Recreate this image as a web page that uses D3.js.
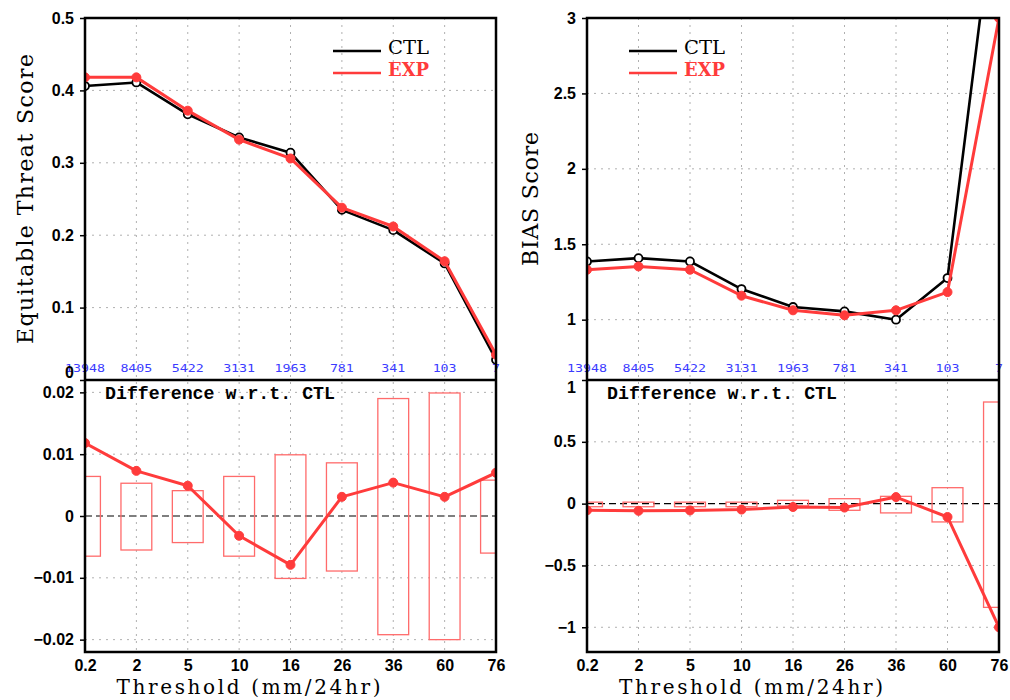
<!DOCTYPE html>
<html>
<head>
<meta charset="utf-8">
<script src="https://cdn.jsdelivr.net/npm/d3@7"></script>
<style>
  body { margin: 0; background: #fff; }
  .grid { stroke: #b0b0b0; stroke-width: 1; stroke-dasharray: 2,5; }
  .tick text { font-family: "Liberation Sans", sans-serif; font-weight: bold; font-size: 16px; }
</style>
</head>
<body>
<script>
//thresholds and sample counts
var thresholds = ["0.2", "2", "5", "10", "16", "26", "36", "60", "76"];
var counts = ["13948", "8405", "5422", "3131", "1963", "781", "341", "103", "7"];

//equitable threat score
var etsCtl = [0.406, 0.411, 0.367, 0.335, 0.314, 0.235, 0.207, 0.161, 0.028];
var etsExp = [0.418, 0.418, 0.372, 0.332, 0.306, 0.238, 0.212, 0.164, 0.035];
var etsDiff = [0.0118, 0.0073, 0.0049, -0.0032, -0.0079, 0.0031, 0.0054, 0.0031, 0.0070];
var etsSigHi = [0.0064, 0.0053, 0.0041, 0.0064, 0.0099, 0.0086, 0.0190, 0.0199, 0.0058];
var etsSigLo = [-0.0065, -0.0055, -0.0043, -0.0065, -0.0101, -0.0089, -0.0192, -0.0200, -0.0060];

//bias score
var biasCtl = [1.386, 1.408, 1.386, 1.203, 1.084, 1.055, 1.000, 1.276, 4.0];
var biasExp = [1.331, 1.353, 1.331, 1.159, 1.062, 1.029, 1.062, 1.183, 3.0];
var biasDiff = [-0.054, -0.058, -0.055, -0.048, -0.027, -0.032, 0.053, -0.108, -1.0];
var biasSigHi = [0.012, 0.012, 0.012, 0.012, 0.027, 0.040, 0.059, 0.129, 0.822];
var biasSigLo = [-0.025, -0.025, -0.025, -0.025, -0.019, -0.054, -0.075, -0.148, -0.839];

//tick values and labels
var etsTicks = [0, 0.1, 0.2, 0.3, 0.4, 0.5];
var etsTickLabels = ["0", "0.1", "0.2", "0.3", "0.4", "0.5"];
var etsDiffTicks = [-0.02, -0.01, 0, 0.01, 0.02];
var etsDiffTickLabels = ["\u22120.02", "\u22120.01", "0", "0.01", "0.02"];
var biasTicks = [1, 1.5, 2, 2.5, 3];
var biasTickLabels = ["1", "1.5", "2", "2.5", "3"];
var biasDiffTicks = [-1, -0.5, 0, 0.5, 1];
var biasDiffTickLabels = ["\u22121", "\u22120.5", "0", "0.5", "1"];

var red = "#ff3b3b";

window.onload = setChart();

function setChart(){

    var svg = d3.select("body")
        .append("svg")
        .attr("width", 1010)
        .attr("height", 700);

    drawColumn(svg, {
        id: "ets", left: 85, right: 496,
        top: 18, mid: 380, bottom: 652,
        topDomain: [0, 0.5], botDomain: [-0.022, 0.022],
        ctl: etsCtl, exp: etsExp, diff: etsDiff, hi: etsSigHi, lo: etsSigLo,
        topTicks: etsTicks, topLabels: etsTickLabels,
        botTicks: etsDiffTicks, botLabels: etsDiffTickLabels,
        title: "Equitable Threat Score", titleX: 33, titleLen: 290,
        legendX: 333
    });

    drawColumn(svg, {
        id: "bias", left: 587, right: 999,
        top: 18, mid: 380, bottom: 652,
        topDomain: [0.6, 3], botDomain: [-1.2, 1],
        ctl: biasCtl, exp: biasExp, diff: biasDiff, hi: biasSigHi, lo: biasSigLo,
        topTicks: biasTicks, topLabels: biasTickLabels,
        botTicks: biasDiffTicks, botLabels: biasDiffTickLabels,
        title: "BIAS Score", titleX: 538, titleLen: 134,
        legendX: 629
    });
};

function drawColumn(svg, o){

    var x = d3.scalePoint()
        .domain(thresholds)
        .range([o.left, o.right]);

    var yTop = d3.scaleLinear().domain(o.topDomain).range([o.mid, o.top]);
    var yBot = d3.scaleLinear().domain(o.botDomain).range([o.bottom, o.mid]);

    var g = svg.append("g");

    //clip paths for each panel
    var defs = svg.append("defs");
    defs.append("clipPath").attr("id", o.id + "Top")
        .append("rect").attr("x", o.left).attr("y", o.top)
        .attr("width", o.right - o.left).attr("height", o.mid - o.top);
    defs.append("clipPath").attr("id", o.id + "Bot")
        .append("rect").attr("x", o.left).attr("y", o.mid)
        .attr("width", o.right - o.left).attr("height", o.bottom - o.mid);

    //vertical grid lines through both panels
    g.selectAll(".vgrid")
        .data(thresholds.slice(1, -1))
        .enter()
        .append("line")
        .attr("class", "grid")
        .attr("x1", function(d){ return x(d); })
        .attr("x2", function(d){ return x(d); })
        .attr("y1", o.top)
        .attr("y2", o.bottom);

    //horizontal grid lines
    g.selectAll(".hgridTop")
        .data(o.topTicks.filter(function(t){ return yTop(t) > o.top + 1 && yTop(t) < o.mid - 1; }))
        .enter()
        .append("line")
        .attr("class", "grid")
        .attr("x1", o.left).attr("x2", o.right)
        .attr("y1", function(d){ return yTop(d); })
        .attr("y2", function(d){ return yTop(d); });

    g.selectAll(".hgridBot")
        .data(o.botTicks.filter(function(t){ return t != 0 && yBot(t) > o.mid + 1 && yBot(t) < o.bottom - 1; }))
        .enter()
        .append("line")
        .attr("class", "grid")
        .attr("x1", o.left).attr("x2", o.right)
        .attr("y1", function(d){ return yBot(d); })
        .attr("y2", function(d){ return yBot(d); });

    //zero line in difference panel
    g.append("line")
        .attr("x1", o.left).attr("x2", o.right)
        .attr("y1", yBot(0)).attr("y2", yBot(0))
        .attr("stroke", "#000")
        .attr("stroke-width", 1.2)
        .attr("stroke-dasharray", "7,4");

    //significance boxes
    var bw = x.step() * 0.6;
    g.append("g")
        .attr("clip-path", "url(#" + o.id + "Bot)")
        .selectAll("rect")
        .data(thresholds)
        .enter()
        .append("rect")
        .attr("x", function(d){ return x(d) - bw / 2; })
        .attr("y", function(d, i){ return yBot(o.hi[i]); })
        .attr("width", bw)
        .attr("height", function(d, i){ return yBot(o.lo[i]) - yBot(o.hi[i]); })
        .attr("fill", "none")
        .attr("stroke", "#ff6b6b")
        .attr("stroke-width", 1.3);

    //score lines
    var topLayer = g.append("g").attr("clip-path", "url(#" + o.id + "Top)");

    function addSeries(layer, vals, y, color, width, filled){
        var line = d3.line()
            .x(function(d, i){ return x(thresholds[i]); })
            .y(function(d){ return y(d); });
        layer.append("path")
            .datum(vals)
            .attr("d", line)
            .attr("fill", "none")
            .attr("stroke", color)
            .attr("stroke-width", width)
            .attr("stroke-linejoin", "round");
        layer.selectAll(".pt" + color.replace("#", ""))
            .data(vals)
            .enter()
            .append("circle")
            .attr("cx", function(d, i){ return x(thresholds[i]); })
            .attr("cy", function(d){ return y(d); })
            .attr("r", filled ? 4.5 : 4)
            .attr("fill", filled ? color : "#fff")
            .attr("stroke", color)
            .attr("stroke-width", filled ? 1 : 1.8);
    }

    addSeries(topLayer, o.ctl, yTop, "#000", 2.6, false);
    addSeries(topLayer, o.exp, yTop, red, 3, true);

    var botLayer = g.append("g").attr("clip-path", "url(#" + o.id + "Bot)");
    addSeries(botLayer, o.diff, yBot, red, 3, true);

    //sample counts
    g.selectAll(".count")
        .data(counts)
        .enter()
        .append("text")
        .attr("x", function(d, i){ return x(thresholds[i]); })
        .attr("y", o.mid - 8)
        .attr("text-anchor", "middle")
        .attr("textLength", function(d){ return d.length * 8; })
        .attr("lengthAdjust", "spacingAndGlyphs")
        .attr("fill", "#3b3bff")
        .style("font-family", "DejaVu Sans Mono, monospace")
        .style("font-size", "11px")
        .text(function(d){ return d; });

    //y axes
    var axTop = g.append("g")
        .attr("class", "axis")
        .attr("transform", "translate(" + o.left + ",0)")
        .call(d3.axisLeft(yTop)
            .tickValues(o.topTicks)
            .tickSize(5)
            .tickPadding(6)
            .tickFormat(function(d, i){ return o.topLabels[i]; }));
    axTop.select(".domain").remove();
    axTop.selectAll(".tick").filter(function(d){ return yTop(d) > o.mid - 1; })
        .select("text").attr("dy", "-0.15em");

    var axBot = g.append("g")
        .attr("class", "axis")
        .attr("transform", "translate(" + o.left + ",0)")
        .call(d3.axisLeft(yBot)
            .tickValues(o.botTicks)
            .tickSize(5)
            .tickPadding(6)
            .tickFormat(function(d, i){ return o.botLabels[i]; }));
    axBot.select(".domain").remove();
    axBot.selectAll(".tick").filter(function(d){ return yBot(d) < o.mid + 1; })
        .select("text").attr("dy", "0.75em");
    axBot.selectAll(".tick line").attr("stroke-width", 1.5);
    axTop.selectAll(".tick line").attr("stroke-width", 1.5);

    //x axis labels
    var axX = g.append("g")
        .attr("class", "axis")
        .attr("transform", "translate(0," + o.bottom + ")")
        .call(d3.axisBottom(x).tickSize(0).tickPadding(8));
    axX.select(".domain").remove();

    //frames
    g.append("rect")
        .attr("x", o.left).attr("y", o.top)
        .attr("width", o.right - o.left).attr("height", o.bottom - o.top)
        .attr("fill", "none")
        .attr("stroke", "#000")
        .attr("stroke-width", 2.5);
    g.append("line")
        .attr("x1", o.left).attr("x2", o.right)
        .attr("y1", o.mid).attr("y2", o.mid)
        .attr("stroke", "#000")
        .attr("stroke-width", 2.5);

    //titles
    g.append("text")
        .attr("transform", "translate(" + o.titleX + "," + ((o.top + o.mid) / 2) + ") rotate(-90)")
        .attr("text-anchor", "middle")
        .attr("textLength", o.titleLen)
        .attr("lengthAdjust", "spacing")
        .style("font-family", "DejaVu Serif, serif")
        .style("font-size", "22px")
        .text(o.title);

    g.append("text")
        .attr("x", (o.left + o.right) / 2 - 42)
        .attr("y", 694)
        .attr("text-anchor", "middle")
        .attr("textLength", 264)
        .attr("lengthAdjust", "spacing")
        .style("font-family", "DejaVu Serif, serif")
        .style("font-size", "20px")
        .text("Threshold (mm/24hr)");

    g.append("text")
        .attr("x", o.left + 20)
        .attr("y", o.mid + 19)
        .attr("textLength", 230)
        .attr("lengthAdjust", "spacingAndGlyphs")
        .style("font-family", "Liberation Mono, monospace")
        .style("font-weight", "bold")
        .style("font-size", "18px")
        .text("Difference w.r.t. CTL");

    //legend
    var legend = [["CTL", "#000", 51], ["EXP", red, 73]];
    var lg = g.selectAll(".legend")
        .data(legend)
        .enter()
        .append("g");
    lg.append("line")
        .attr("x1", o.legendX).attr("x2", o.legendX + 48)
        .attr("y1", function(d){ return d[2]; })
        .attr("y2", function(d){ return d[2]; })
        .attr("stroke", function(d){ return d[1]; })
        .attr("stroke-width", 2.5);
    lg.append("text")
        .attr("x", o.legendX + 55)
        .attr("y", function(d){ return d[2] + 3; })
        .attr("textLength", 41)
        .attr("lengthAdjust", "spacingAndGlyphs")
        .attr("fill", function(d){ return d[1]; })
        .style("font-family", "DejaVu Serif, serif")
        .style("font-weight", function(d){ return d[0] == "EXP" ? "bold" : "normal"; })
        .style("font-size", "19px")
        .text(function(d){ return d[0]; });
};
</script>
</body>
</html>
